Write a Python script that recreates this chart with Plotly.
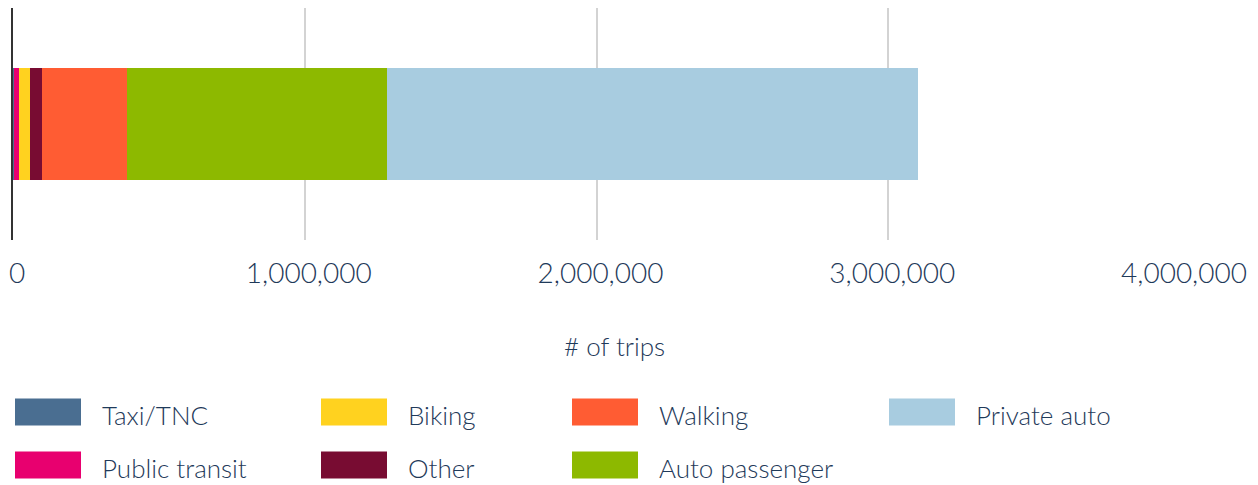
import plotly.graph_objects as go

categories = ["Taxi/TNC", "Public transit", "Biking", "Other", "Walking", "Auto passenger", "Private auto"]
trips = [5000, 14000, 38000, 44000, 291000, 889000, 1822000]
colors = ["#4a6e91", "#e8006f", "#ffd21f", "#780c32", "#ff5c33", "#8db900", "#a8cce0"]
tick_vals = [0, 1000000, 2000000, 3000000, 4000000]
tick_text = ["0", "1,000,000", "2,000,000", "3,000,000", "4,000,000"]
x_title = "# of trips"

# legend layout: columns (pairs of category indices)
legend_columns = [[0, 1], [2, 3], [4, 5], [6]]

OFF = 8  # page body margin
W, H = 1258 - OFF, 485 - OFF
ml, mr, mt, mb = 13 - OFF, 78, 0, 245
pw = W - ml - mr
ph = H - mt - mb
TXT = "#1f3a5a"
FONT = "Lato"

fig = go.Figure()
for name, v, c in zip(categories, trips, colors):
    fig.add_trace(go.Bar(x=[v], y=["trips"], orientation="h", name=name,
                         marker=dict(color=c, line=dict(width=0)), showlegend=False))

# page pixel -> paper coords
def px2x(px):
    return (px - OFF - ml) / pw

def py2y(py):
    return (H - mb - (py - OFF)) / ph

col_x = [15, 321, 572, 889]
row_y = [412, 465]
shapes = []
annotations = []
for ci, col in enumerate(legend_columns):
    for ri, idx in enumerate(col):
        x0 = col_x[ci]
        yc = row_y[ri]
        shapes.append(dict(type="rect", xref="paper", yref="paper",
                           x0=px2x(x0), x1=px2x(x0 + 66), y0=py2y(yc + 13.5), y1=py2y(yc - 13.5),
                           fillcolor=colors[idx], line=dict(width=0)))
        annotations.append(dict(xref="paper", yref="paper", x=px2x(x0 + 85), y=py2y(yc + 3),
                                text=categories[idx], showarrow=False, xanchor="left", yanchor="middle",
                                font=dict(size=26, color=TXT, family=FONT, weight=300)))

annotations.append(dict(xref="paper", yref="paper", x=px2x(614), y=py2y(346),
                        text=x_title, showarrow=False, xanchor="center", yanchor="middle",
                        font=dict(size=26, color=TXT, family=FONT, weight=300)))

fig.update_layout(
    width=W, height=H,
    margin=dict(l=ml, r=mr, t=mt, b=mb, autoexpand=False),
    barmode="stack", bargap=0.52,
    plot_bgcolor="white", paper_bgcolor="white",
    font=dict(family=FONT, color=TXT),
    shapes=shapes, annotations=annotations,
    xaxis=dict(range=[0, 4000000], tickvals=tick_vals, ticktext=tick_text, automargin=False,
               showgrid=True, gridcolor="#d3d3d3", gridwidth=1.5, zeroline=False,
               showline=False, ticks="", ticklabelstandoff=14, ticklabeloverflow="allow",
               ticklabelshift=4,
               tickfont=dict(size=28, color=TXT, family=FONT, weight=300)),
    yaxis=dict(showticklabels=False, showgrid=False, zeroline=False, automargin=False,
               showline=True, linecolor="#333333", linewidth=2),
)
fig.write_html("out.html")
